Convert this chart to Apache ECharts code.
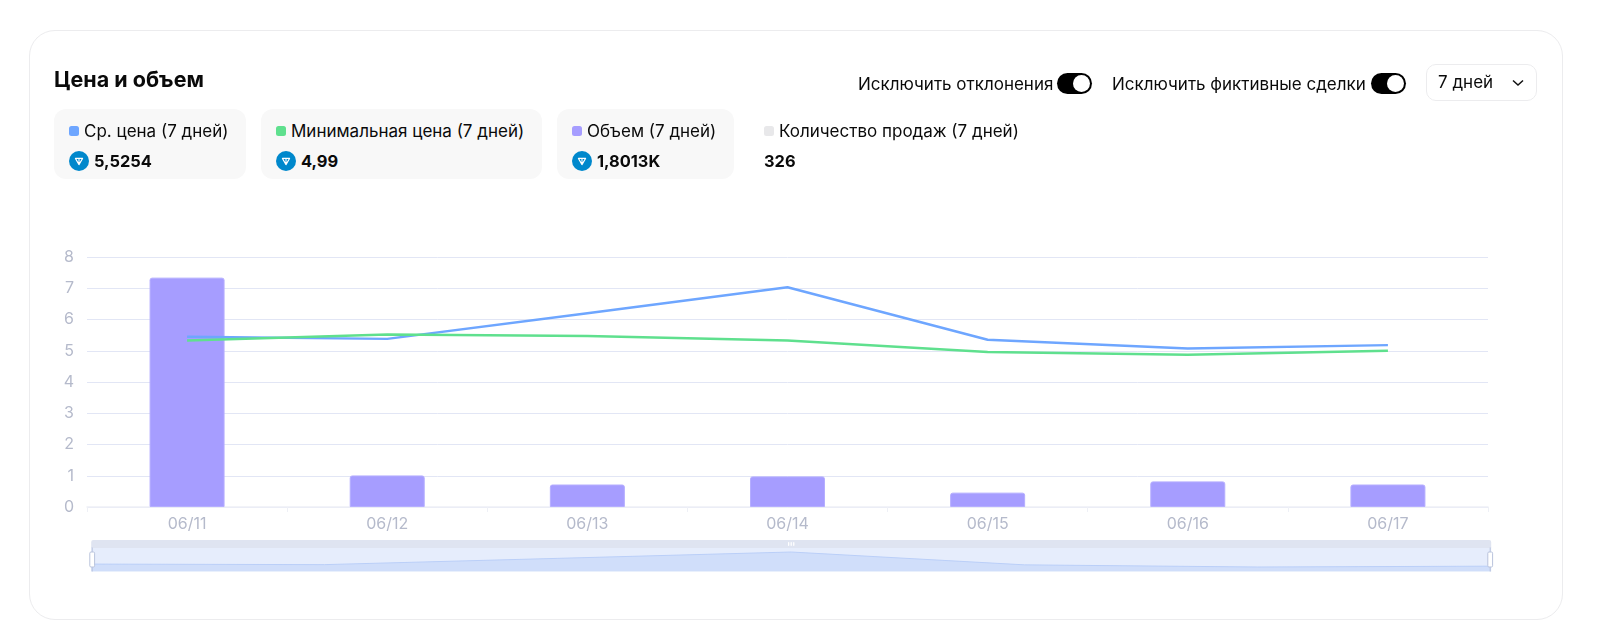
<!DOCTYPE html>
<html lang="ru">
<head>
<meta charset="utf-8">
<title>Цена и объем</title>
<script src="https://cdn.jsdelivr.net/npm/echarts@6/dist/echarts.min.js"></script>
<style>
  html, body { margin: 0; padding: 0; background: #fff; }
  body { width: 1599px; height: 635px; overflow: hidden; position: relative; font-family: Inter, "Noto Sans", sans-serif; color: #0a0a0a; }
  .panel { position: absolute; left: 29px; top: 30px; width: 1532px; height: 588px; border: 1px solid #ececee; border-radius: 26px; }
  #main { position: absolute; left: 0; top: 0; width: 1599px; height: 635px; }
  .title { position: absolute; left: 54px; top: 66px; font-size: 21.5px; line-height: 26px; font-weight: 700; }
  .opt { position: absolute; top: 74px; font-size: 17px; line-height: 20px; white-space: nowrap; }
  .toggle { position: absolute; top: 73px; width: 35px; height: 21px; border-radius: 11px; background: #000; }
  .toggle::after { content: ""; position: absolute; right: 2px; top: 2px; width: 17px; height: 17px; border-radius: 50%; background: #fff; }
  .select { position: absolute; left: 1426px; top: 64px; width: 109px; height: 35px; border: 1px solid #ececee; border-radius: 10px; font-size: 17px; line-height: 35px; }
  .select span { position: absolute; left: 11px; }
  .select svg { position: absolute; left: 84px; top: 14px; }
  .stat { position: absolute; top: 109px; height: 70px; border-radius: 12px; background: #f8f8f8; }
  .stat.plain { background: none; }
  .stat .label { position: absolute; top: 12px; left: 30px; font-size: 17px; line-height: 20px; white-space: nowrap; }
  .stat .dot { position: absolute; left: 15px; top: 17px; width: 10px; height: 10px; border-radius: 2.5px; }
  .stat .ton { position: absolute; left: 15px; top: 42px; }
  .stat .value { position: absolute; top: 42px; left: 40px; font-size: 16.4px; line-height: 20px; font-weight: 700; white-space: nowrap; }
</style>
</head>
<body>
<div class="panel"></div>
<div id="main"></div>
<div class="title">Цена и объем</div>
<div class="opt" id="opt0"></div><div class="toggle" style="left:1057px"></div>
<div class="opt" id="opt1"></div><div class="toggle" style="left:1371px"></div>
<div class="select"><span>7 дней</span><svg width="14" height="8" viewBox="0 0 14 8"><path d="M2 1.5 L7 6 L12 1.5" fill="none" stroke="#111" stroke-width="1.5"/></svg></div>
<div id="stats"></div>
<script>
const categories = ["06/11", "06/12", "06/13", "06/14", "06/15", "06/16", "06/17"];
const avgPrice = [5.45, 5.38, 6.2, 7.03, 5.35, 5.07, 5.18];
const minPrice = [5.33, 5.52, 5.47, 5.33, 4.96, 4.87, 5.0];
const volume = [7.34, 1.01, 0.72, 0.98, 0.46, 0.82, 0.72];

const optionLabels = ["Исключить отклонения", "Исключить фиктивные сделки"];
const statLabels = ["Ср. цена (7 дней)", "Минимальная цена (7 дней)", "Объем (7 дней)", "Количество продаж (7 дней)"];
const statValues = ["5,5254", "4,99", "1,8013K", "326"];
const statColors = ["#6ea6ff", "#5fe08e", "#a69dff", "#e8e8ea"];
const statLeft = [54, 261, 557, 749];
const statWidth = [192, 281, 177, 280];
const statHasIcon = [true, true, true, false];

const tonIcon = '<svg class="ton" width="20" height="20" viewBox="0 0 20 20"><circle cx="10" cy="10" r="10" fill="#0088cc"/><path d="M6.4 7.4 H13.6 L10 13.6 Z M10 7.4 V13.6" fill="none" stroke="#fff" stroke-width="1.1" stroke-linejoin="round"/></svg>';

document.getElementById("opt0").textContent = optionLabels[0];
document.getElementById("opt0").style.left = "858px";
document.getElementById("opt1").textContent = optionLabels[1];
document.getElementById("opt1").style.left = "1112px";

document.getElementById("stats").innerHTML = statLabels.map(function (label, i) {
  return '<div class="stat' + (statHasIcon[i] ? "" : " plain") + '" style="left:' + statLeft[i] + 'px;width:' + statWidth[i] + 'px">' +
    '<i class="dot" style="background:' + statColors[i] + '"></i>' +
    '<div class="label">' + label + '</div>' +
    (statHasIcon[i] ? tonIcon : "") +
    '<div class="value"' + (statHasIcon[i] ? "" : ' style="left:15px"') + '>' + statValues[i] + '</div></div>';
}).join("");

var myChart = echarts.init(document.getElementById("main"), null, { renderer: "canvas" });
myChart.setOption({
  animation: false,
  backgroundColor: "transparent",
  grid: { left: 87, right: 111, top: 257, bottom: 128 },
  xAxis: {
    type: "category",
    data: categories,
    axisLine: { lineStyle: { color: "#eef0f6", width: 1.5 } },
    axisTick: { show: true, length: 5, alignWithLabel: false, lineStyle: { color: "#eef0f6" } },
    axisLabel: { color: "#b5bacb", fontSize: 16, margin: 9, fontFamily: "Inter" }
  },
  yAxis: {
    type: "value",
    min: 0,
    max: 8,
    interval: 1,
    axisLine: { show: false },
    axisTick: { show: false },
    splitLine: { lineStyle: { color: "#e2e6f5", width: 1 } },
    axisLabel: { color: "#b5bacb", fontSize: 16, margin: 13, fontFamily: "Inter" }
  },
  dataZoom: [{
    type: "slider",
    left: 88,
    right: 111,
    top: 540,
    height: 24,
    start: 0,
    end: 100,
    showDetail: false,
    brushSelect: true,
    borderColor: "transparent",
    backgroundColor: "transparent",
    fillerColor: "rgba(205,219,250,0.5)",
    moveHandleSize: 8,
    moveHandleStyle: { color: "#dfe4f1", opacity: 1 },
    handleSize: "100%",
    handleStyle: { color: "#fff", borderColor: "#b9c3dc", borderWidth: 1 },
    dataBackground: { lineStyle: { color: "#a8c3f7", width: 1 }, areaStyle: { color: "#d2e0fb", opacity: 1 } },
    selectedDataBackground: { lineStyle: { color: "#a8c3f7", width: 1 }, areaStyle: { color: "#d2e0fb", opacity: 1 } }
  }],
  series: [
    { name: "Ср. цена", type: "line", data: avgPrice, showSymbol: false, lineStyle: { color: "#6ea6ff", width: 2.5 }, itemStyle: { color: "#6ea6ff" } },
    { name: "Минимальная цена", type: "line", data: minPrice, showSymbol: false, lineStyle: { color: "#5fe08e", width: 2.5 }, itemStyle: { color: "#5fe08e" } },
    { name: "Объем", type: "bar", data: volume, barWidth: 75, z: 1, itemStyle: { color: "#a69dff", borderColor: "#b5aeff", borderWidth: 1, borderRadius: [2, 2, 0, 0] } }
  ]
});
window.onresize = function () {
  myChart.resize();
};
</script>
</body>
</html>
